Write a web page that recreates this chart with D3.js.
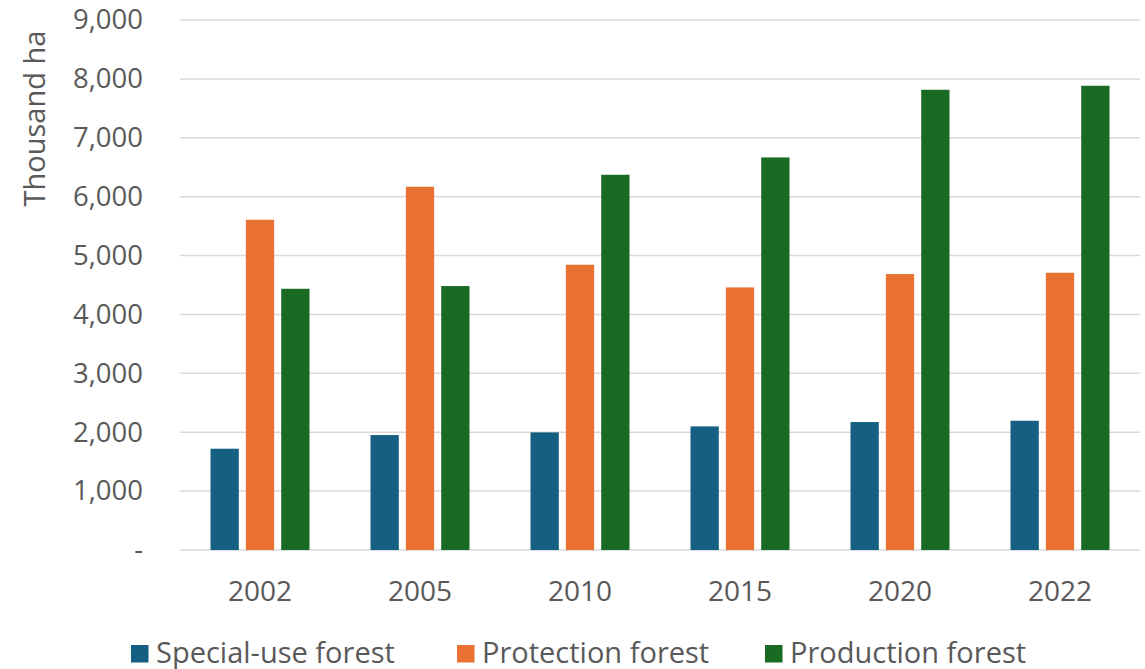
<!DOCTYPE html>
<html>
<head>
<meta charset="utf-8">
<script src="https://cdn.jsdelivr.net/npm/d3@7"></script>
<style>
  html, body { margin: 0; padding: 0; background: #fff; }
  svg { display: block; }
  text { font-family: "Open Sans", "Liberation Sans", Arial, sans-serif; fill: #595959; }
</style>
</head>
<body>
<svg id="chart" width="1145" height="669"></svg>
<script>
// Forest area by category (thousand ha)
const years = ["2002", "2005", "2010", "2015", "2020", "2022"];
const seriesNames = ["Special-use forest", "Protection forest", "Production forest"];
const specialUse = [1720, 1952, 1997, 2099, 2173, 2195];
const protection = [5608, 6168, 4844, 4459, 4686, 4708];
const production = [4436, 4482, 6372, 6666, 7815, 7883];
const yTicks = [0, 1000, 2000, 3000, 4000, 5000, 6000, 7000, 8000, 9000];
const colors = ["#156082", "#E97132", "#196B24"];

const seriesValues = [specialUse, protection, production];
const rows = years.map((y, i) => ({
  year: y,
  values: seriesNames.map((name, s) => ({ name, value: seriesValues[s][i], color: colors[s] }))
}));

const svg = d3.select("#chart");
const margin = { left: 180, right: 5, top: 20, bottom: 119 };
const W = 1145, H = 669;
const plotW = W - margin.left - margin.right;
const plotH = H - margin.top - margin.bottom;

const x = d3.scaleBand().domain(years).range([margin.left, margin.left + plotW]).padding(0);
const groupW = 99;
const xInner = d3.scaleBand().domain(seriesNames).range([0, groupW]).paddingInner(0.2);
const y = d3.scaleLinear().domain([0, 9000]).range([margin.top + plotH, margin.top]);

// horizontal gridlines
svg.append("g")
  .selectAll("line")
  .data(yTicks)
  .join("line")
  .attr("x1", margin.left)
  .attr("x2", margin.left + plotW)
  .attr("y1", d => y(d))
  .attr("y2", d => y(d))
  .attr("stroke", "#D9D9D9")
  .attr("stroke-width", 1.5);

// y axis labels
const yAxis = d3.axisLeft(y)
  .tickValues(yTicks)
  .tickSize(0)
  .tickPadding(0)
  .tickFormat(d => d === 0 ? "-" : d3.format(",")(d));
const yG = svg.append("g")
  .attr("transform", `translate(${margin.left - 37},0)`)
  .call(yAxis);
yG.select(".domain").remove();
yG.selectAll("text")
  .attr("font-size", 27.5)
  .attr("font-family", null)
  .attr("fill", "#595959");

// x axis labels
const xAxis = d3.axisBottom(x).tickSize(0).tickPadding(0);
const xG = svg.append("g")
  .attr("transform", `translate(0,${margin.top + plotH})`)
  .call(xAxis);
xG.select(".domain").remove();
xG.selectAll("text")
  .attr("font-size", 28)
  .attr("font-family", null)
  .attr("fill", "#595959")
  .attr("y", 50.5)
  .attr("dy", null);

// bars
const groups = svg.append("g")
  .selectAll("g")
  .data(rows)
  .join("g")
  .attr("transform", d => `translate(${x(d.year) + (x.bandwidth() - groupW) / 2},0)`);

groups.selectAll("rect")
  .data(d => d.values)
  .join("rect")
  .attr("x", d => xInner(d.name))
  .attr("width", xInner.bandwidth())
  .attr("y", d => y(d.value))
  .attr("height", d => y(0) - y(d.value))
  .attr("fill", d => d.color);

// y axis title
svg.append("text")
  .attr("transform", "translate(45,118.5) rotate(-90)")
  .attr("text-anchor", "middle")
  .attr("font-size", 29)
  .text("Thousand ha");

// legend
const legendItems = [
  { name: seriesNames[0], color: colors[0], x: 131 },
  { name: seriesNames[1], color: colors[1], x: 457 },
  { name: seriesNames[2], color: colors[2], x: 765 }
];
const lg = svg.append("g").selectAll("g").data(legendItems).join("g")
  .attr("transform", d => `translate(${d.x},645)`);
lg.append("rect").attr("width", 17.5).attr("height", 17.5).attr("fill", d => d.color);
lg.append("text")
  .attr("x", 25)
  .attr("y", 17.7)
  .attr("font-size", 29)
  .text(d => d.name);
</script>
</body>
</html>
